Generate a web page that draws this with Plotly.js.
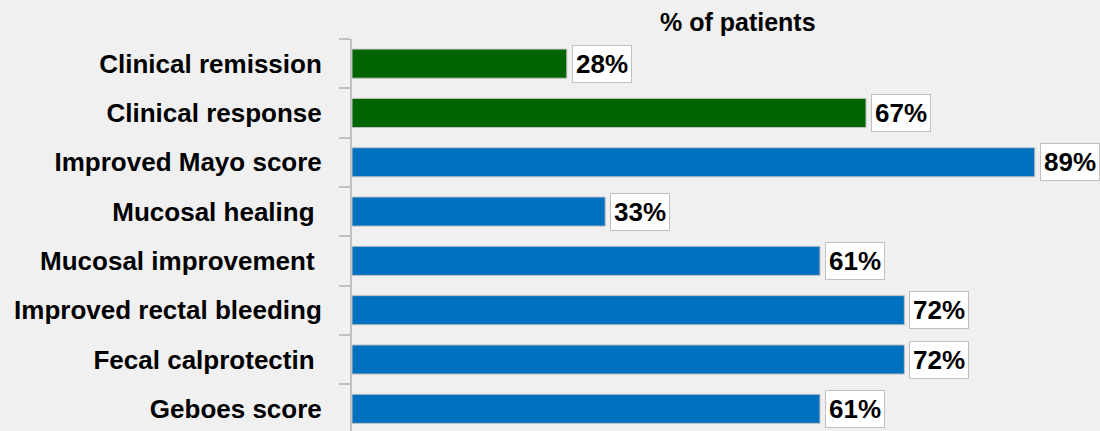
<!DOCTYPE html>
<html>
<head>
<meta charset="utf-8">
<script src="https://cdn.plot.ly/plotly-3.0.1.min.js"></script>
<style>html,body{margin:0;padding:0;background:#f0f0f0;}#chart{width:1100px;height:431px;}</style>
</head>
<body>
<div id="chart"></div>
<script>
const categories = ["Clinical remission", "Clinical response", "Improved Mayo score", "Mucosal healing\u00a0", "Mucosal improvement\u00a0", "Improved rectal bleeding", "Fecal calprotectin\u00a0", "Geboes score"];
const values = [28, 67, 89, 33, 61, 72, 72, 61];
const groups = ["clinical", "clinical", "other", "other", "other", "other", "other", "other"];
const groupColors = {clinical: "#006400", other: "#0070c0"};
const labels = values.map(v => v + "%");

const FONT = "Liberation Sans";

const trace = {
  type: "bar",
  orientation: "h",
  x: values,
  y: categories,
  width: 0.59,
  marker: {color: groups.map(g => groupColors[g]), line: {color: "#c0c0c0", width: 1}},
  hoverinfo: "none"
};

const annotations = values.map((v, i) => ({
  x: v, y: categories[i], xref: "x", yref: "y",
  text: labels[i], showarrow: false, xanchor: "left", xshift: 5,
  bgcolor: "#ffffff", bordercolor: "#c0c0c0", borderwidth: 1, borderpad: 3,
  font: {family: FONT, size: 26, color: "#000000", weight: "bold"}
}));
annotations.push({
  x: 0.516, y: 1, xref: "paper", yref: "paper", yanchor: "middle", yshift: 17,
  text: "% of patients", showarrow: false,
  font: {family: FONT, size: 25, color: "#000000", weight: "bold"}
});

const layout = {
  width: 1100, height: 431,
  margin: {l: 352, r: 0, t: 39, b: 0},
  paper_bgcolor: "#f0f0f0", plot_bgcolor: "#f0f0f0",
  showlegend: false,
  xaxis: {range: [0, 97.5], visible: false, fixedrange: true},
  yaxis: {
    type: "category", range: [7.45, -0.5],
    showline: true, linecolor: "#c0c0c0", linewidth: 2,
    ticks: "outside", tickson: "boundaries", ticklen: 11, tickcolor: "#c0c0c0", tickwidth: 2,
    ticklabelstandoff: 23,
    showgrid: false, zeroline: false,
    tickfont: {family: FONT, size: 26, color: "#000000", weight: "bold"}
  },
  annotations: annotations
};

Plotly.newPlot("chart", [trace], layout, {displayModeBar: false, staticPlot: true});
</script>
</body>
</html>
